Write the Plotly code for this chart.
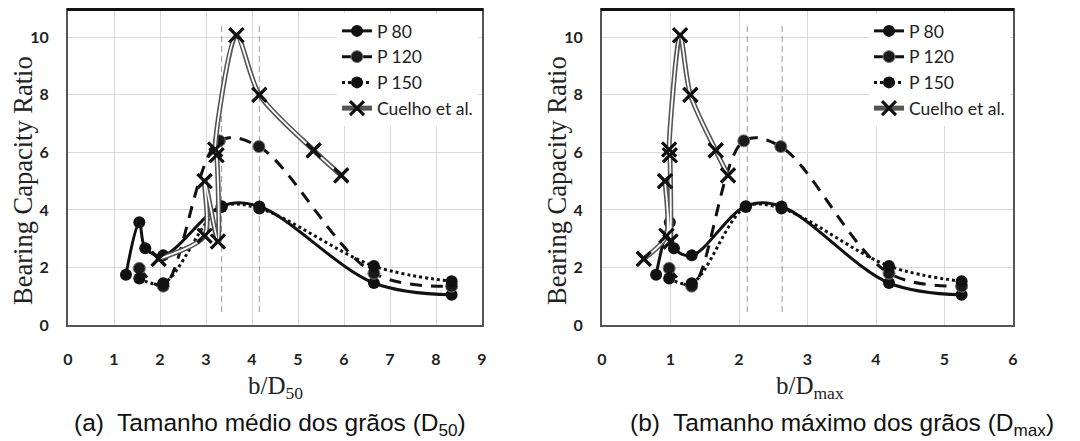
import plotly.graph_objects as go

# ---------------- data ----------------
# Panel (a): b/D50
p80_x_a = [1.26, 1.55, 1.68, 2.07, 3.34, 4.16, 6.65, 8.34]
p80_y = [1.75, 3.57, 2.67, 2.42, 4.13, 4.12, 1.46, 1.05]
p120_x_a = [1.55, 2.07, 3.29, 4.15, 6.65, 8.34]
p120_y = [1.97, 1.35, 6.40, 6.20, 1.80, 1.35]
p150_x_a = [1.55, 2.07, 3.34, 4.16, 6.65, 8.34]
p150_y = [1.62, 1.45, 4.10, 4.05, 2.05, 1.52]
cue_x_a = [1.97, 2.97, 2.97, 3.26, 3.23, 3.20, 3.66, 4.16, 5.34, 5.94]
cue_y = [2.30, 3.10, 5.00, 2.90, 5.90, 6.10, 10.07, 8.00, 6.07, 5.20]
vlines_a = [3.34, 4.16]

# Panel (b): b/Dmax
p80_x_b = [0.79, 0.99, 1.05, 1.31, 2.10, 2.62, 4.19, 5.25]
p120_x_b = [0.98, 1.31, 2.07, 2.61, 4.19, 5.25]
p150_x_b = [0.98, 1.31, 2.10, 2.62, 4.19, 5.25]
cue_x_b = [0.61, 0.94, 0.92, 1.00, 0.99, 0.98, 1.14, 1.29, 1.66, 1.84]
vlines_b = [2.12, 2.63]

series_names = ["P 80", "P 120", "P 150", "Cuelho et al."]
y_ticks = [0, 2, 4, 6, 8, 10]
x_ticks_a = [0, 1, 2, 3, 4, 5, 6, 7, 8, 9]
x_ticks_b = [0, 1, 2, 3, 4, 5, 6]

fig = go.Figure()

def add_panel(xref, yref, legend, p80x, p120x, p150x, cuex, vlines):
    for v in vlines:
        fig.add_trace(go.Scatter(x=[v, v], y=[0.45, 10.45], mode="lines",
                                 line=dict(color="#9a9a9a", width=1, dash="6px,4px"),
                                 xaxis=xref, yaxis=yref, showlegend=False, hoverinfo="skip"))
    fig.add_trace(go.Scatter(x=p80x, y=p80_y, name=series_names[0], mode="lines+markers",
                             line=dict(color="#111", width=3, shape="spline", smoothing=1),
                             marker=dict(symbol="circle", size=12, color="#111"),
                             xaxis=xref, yaxis=yref, legend=legend))
    fig.add_trace(go.Scatter(x=p120x, y=p120_y, name=series_names[1], mode="lines+markers",
                             line=dict(color="#111", width=3, shape="spline", smoothing=1,
                                       dash="12px,9px"),
                             marker=dict(symbol="circle", size=12, color="#1a1a1a",
                                         line=dict(color="#777", width=1)),
                             xaxis=xref, yaxis=yref, legend=legend))
    fig.add_trace(go.Scatter(x=p150x, y=p150_y, name=series_names[2], mode="lines+markers",
                             line=dict(color="#111", width=3, shape="spline", smoothing=1,
                                       dash="dot"),
                             marker=dict(symbol="circle", size=12, color="#111"),
                             xaxis=xref, yaxis=yref, legend=legend))
    fig.add_trace(go.Scatter(x=cuex, y=cue_y, name=series_names[3], mode="lines+markers",
                             line=dict(color="#555", width=5, shape="spline", smoothing=0.8),
                             marker=dict(symbol="x-thin", size=14, color="#111",
                                         line=dict(color="#111", width=3)),
                             xaxis=xref, yaxis=yref, legend=legend))
    fig.add_trace(go.Scatter(x=cuex, y=cue_y, mode="lines",
                             line=dict(color="#ffffff", width=1.8, shape="spline", smoothing=0.8),
                             xaxis=xref, yaxis=yref, showlegend=False, hoverinfo="skip"))
    fig.add_trace(go.Scatter(x=cuex, y=cue_y, mode="markers",
                             marker=dict(symbol="x-thin", size=14, color="#111",
                                         line=dict(color="#111", width=3)),
                             xaxis=xref, yaxis=yref, showlegend=False, hoverinfo="skip"))

add_panel("x", "y", "legend", p80_x_a, p120_x_a, p150_x_a, cue_x_a, vlines_a)
add_panel("x2", "y2", "legend2", p80_x_b, p120_x_b, p150_x_b, cue_x_b, vlines_b)

# page is offset by the 8px default body margin
OFF = 8
W, H = 1080 - OFF, 441 - OFF

def fx(px):
    return (px - OFF) / W

def fy(py):
    return 1 - (py - OFF) / H

ydom = [fy(325), fy(8.5)]
tickfont = dict(family="Lato", size=16, color="#222", weight="bold")

axis_common = dict(showgrid=True, gridcolor="#d9d9d9", gridwidth=1, zeroline=False,
                   showline=True, linecolor="#555", linewidth=2, mirror=True,
                   ticks="", tickfont=tickfont, automargin=False)

legfont = dict(family="Lato", size=17.5, color="#222")

fig.update_layout(
    width=W, height=H, margin=dict(l=0, r=0, t=0, b=0, pad=0, autoexpand=False),
    paper_bgcolor="white", plot_bgcolor="white",
    xaxis=dict(domain=[fx(68), fx(482)], range=[0, 9], tickvals=x_ticks_a,
               ticklabelstandoff=19, anchor="y", **axis_common),
    yaxis=dict(domain=ydom, range=[0, 11], tickvals=y_ticks, ticklabelstandoff=14,
               anchor="x", **axis_common),
    xaxis2=dict(domain=[fx(602), fx(1013)], range=[0, 6], tickvals=x_ticks_b,
                ticklabelstandoff=19, anchor="y2", **axis_common),
    yaxis2=dict(domain=ydom, range=[0, 11], tickvals=y_ticks, ticklabelstandoff=14,
                anchor="x2", **axis_common),
    legend=dict(x=fx(337), y=fy(13), xanchor="left", yanchor="top",
                bgcolor="white", font=legfont, tracegroupgap=0, itemwidth=30),
    legend2=dict(x=fx(869), y=fy(13), xanchor="left", yanchor="top",
                 bgcolor="white", font=legfont, tracegroupgap=0, itemwidth=30),
    showlegend=True,
)

# heavy top frame line (paper coordinates so it is not clipped)
for x0, x1 in [(68, 482), (602, 1013)]:
    fig.add_shape(type="line", xref="paper", yref="paper", x0=fx(x0 - 1), x1=fx(x1 + 1),
                  y0=fy(9), y1=fy(9), line=dict(color="#111", width=4), layer="above")

serif = dict(family="Liberation Serif, Times New Roman, serif", size=26.5, color="#222")
serif_x = dict(family="Liberation Serif, Times New Roman, serif", size=25, color="#222")
sans = dict(family="Liberation Sans, Arial, sans-serif", size=24.5, color="#111")

annotations = [
    dict(text="Bearing Capacity Ratio", x=fx(23), y=fy(181), textangle=-90, font=serif),
    dict(text="Bearing Capacity Ratio", x=fx(557), y=fy(181), textangle=-90, font=serif),
    dict(text="b/D<sub>50</sub>", x=fx(275), y=fy(387), font=serif_x),
    dict(text="b/D<sub>max</sub>", x=fx(810), y=fy(387), font=serif_x),
    dict(text="(a)  Tamanho médio dos grãos (D<sub>50</sub>)", x=fx(270), y=fy(424), font=sans),
    dict(text="(b)  Tamanho máximo dos grãos (D<sub>max</sub>)", x=fx(842), y=fy(424), font=sans),
]
for a in annotations:
    fig.add_annotation(xref="paper", yref="paper", showarrow=False,
                       xanchor="center", yanchor="middle", **a)

fig.write_html("out.html")
